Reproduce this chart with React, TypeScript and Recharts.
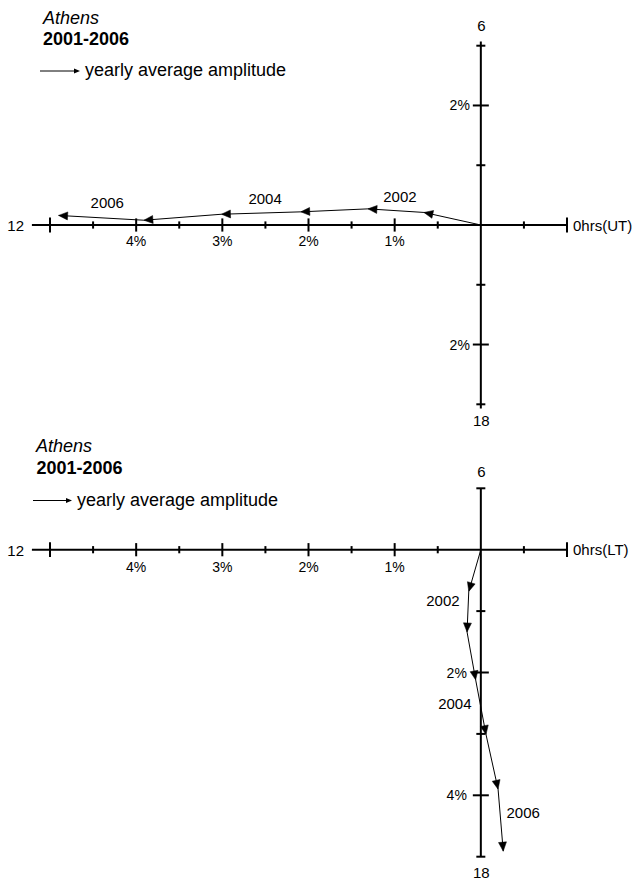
import React from 'react';
import { ComposedChart, XAxis, YAxis, Line, ReferenceLine, ReferenceDot } from 'recharts';

const FONT = '"Liberation Sans", Arial, Helvetica, sans-serif';

// ---- data ----
const years = [2001, 2002, 2003, 2004, 2005, 2006];
const labelledYears = [2002, 2004, 2006];
// cumulative yearly average amplitude vector tips (%), UT panel
const utAmpX = [0.66, 1.31, 2.09, 3.01, 3.91, 4.9];
const utAmpY = [0.21, 0.27, 0.22, 0.18, 0.08, 0.16];
// LT panel
const ltAmpX = [0.14, 0.16, 0.06, -0.06, -0.2, -0.26];
const ltAmpY = [0.68, 1.34, 2.12, 3.01, 3.9, 4.91];

// ---- axis ticks ----
const hMajorTicks = [1, 2, 3, 4];
const hMinorTicks = [-0.5, 0.5, 1.5, 2.5, 3.5, 4.5];
const hEndTicks = [-1, 5];
const utVMajorTicks = [-2, 2];
const utVMinorTicks = [-3, -1, 1, 3];
const ltVMajorTicks = [2, 4];
const ltVMinorTicks = [-1, 1, 3, 5];

const buildData = (xs: number[], ys: number[]) => [
  { x: 0, y: 0, year: 0 },
  ...years.map((yr, i) => ({ x: xs[i], y: ys[i], year: yr })),
];
const utData = buildData(utAmpX, utAmpY);
const ltData = buildData(ltAmpX, ltAmpY);

const AX = 2;

function makeArrowDot(labelOffsets: [number, number][]) {
  let last: { x: number; y: number } | null = null;
  return (props: any) => {
    const { cx, cy, index, points, payload } = props;
    if (cx == null || cy == null) return <g key={`d${index}`} />;
    if (index === 0) {
      last = { x: cx, y: cy };
      return <g key={`d${index}`} />;
    }
    const prev = points && points[index - 1] ? { x: points[index - 1].x, y: points[index - 1].y } : last;
    last = { x: cx, y: cy };
    if (!prev) return <g key={`d${index}`} />;
    const ang = Math.atan2(cy - prev.y, cx - prev.x);
    const L = 9;
    const W = 4;
    const bx = cx - L * Math.cos(ang);
    const by = cy - L * Math.sin(ang);
    const nx = -Math.sin(ang);
    const ny = Math.cos(ang);
    const tri = `${cx},${cy} ${bx + W * nx},${by + W * ny} ${bx - W * nx},${by - W * ny}`;
    const k = labelledYears.indexOf(payload?.year);
    let label = null;
    if (k >= 0) {
      const mx = (cx + prev.x) / 2 + labelOffsets[k][0];
      const my = (cy + prev.y) / 2 + labelOffsets[k][1];
      label = (
        <text x={mx} y={my} textAnchor="middle" dominantBaseline="central" fontSize={15} fontFamily={FONT} fill="#000">
          {payload.year}
        </text>
      );
    }
    return (
      <g key={`d${index}`}>
        <polygon points={tri} fill="#000" stroke="#000" strokeWidth={0.5} />
        {label}
      </g>
    );
  };
}

const hTick = (half: number, label?: string, labelDy = 16) => (p: any) => (
  <g>
    <line x1={p.cx} x2={p.cx} y1={p.cy - half} y2={p.cy + half} stroke="#000" strokeWidth={AX} />
    {label ? (
      <text x={p.cx} y={p.cy + labelDy} textAnchor="middle" dominantBaseline="central" fontSize={14} fontFamily={FONT} fill="#000">
        {label}
      </text>
    ) : null}
  </g>
);

const vTick = (left: number, right: number, label?: string, labelDx = 11) => (p: any) => (
  <g>
    <line x1={p.cx - left} x2={p.cx + right} y1={p.cy} y2={p.cy} stroke="#000" strokeWidth={AX} />
    {label ? (
      <text x={p.cx - labelDx} y={p.cy} textAnchor="end" dominantBaseline="central" fontSize={14} fontFamily={FONT} fill="#000">
        {label}
      </text>
    ) : null}
  </g>
);

const endText = (text: string, dx: number, dy: number, anchor: 'start' | 'middle' | 'end') => (p: any) => (
  <text x={p.cx + dx} y={p.cy + dy} textAnchor={anchor} dominantBaseline="central" fontSize={15} fontFamily={FONT} fill="#000">
    {text}
  </text>
);

type PanelProps = {
  data: any[];
  height: number;
  margin: any;
  yDomain: [number, number];
  yReversed: boolean;
  vAxisFrom: number;
  vAxisTo: number;
  vTop: number;
  vBottom: number;
  vMajor: number[];
  vMinor: number[];
  hLabelDy: number;
  vLabelDx: number;
  timeLabel: string;
  topLabelDy: number;
  labelOffsets: [number, number][];
};

function Panel(pp: PanelProps) {
  const dot = makeArrowDot(pp.labelOffsets);
  return (
    <ComposedChart width={635} height={pp.height} margin={pp.margin} data={pp.data}>
      <XAxis type="number" dataKey="x" domain={[-1, 5]} reversed hide allowDataOverflow />
      <YAxis type="number" domain={pp.yDomain} reversed={pp.yReversed} hide allowDataOverflow />
      <ReferenceLine
        segment={[{ x: 5.21, y: 0 }, { x: -1, y: 0 }]}
        stroke="#000"
        strokeWidth={AX}
        ifOverflow="visible"
      />
      <ReferenceLine
        segment={[{ x: 0, y: pp.vAxisFrom }, { x: 0, y: pp.vAxisTo }]}
        stroke="#000"
        strokeWidth={AX}
        ifOverflow="visible"
      />
      {hMinorTicks.map((t) => (
        <ReferenceDot key={`hm${t}`} x={t} y={0} r={0} ifOverflow="visible" shape={hTick(3.6)} />
      ))}
      {hMajorTicks.map((t) => (
        <ReferenceDot key={`hM${t}`} x={t} y={0} r={0} ifOverflow="visible" shape={hTick(6.6, `${t}%`, pp.hLabelDy)} />
      ))}
      {hEndTicks.map((t) => (
        <ReferenceDot key={`he${t}`} x={t} y={0} r={0} ifOverflow="visible" shape={hTick(7.4)} />
      ))}
      {pp.vMinor.map((t) => (
        <ReferenceDot key={`vm${t}`} x={0} y={t} r={0} ifOverflow="visible" shape={vTick(4.5, 4.5)} />
      ))}
      {pp.vMajor.map((t) => (
        <ReferenceDot
          key={`vM${t}`}
          x={0}
          y={t}
          r={0}
          ifOverflow="visible"
          shape={vTick(8, 8, `${Math.abs(t)}%`, pp.vLabelDx)}
        />
      ))}
      <ReferenceDot x={5} y={0} r={0} ifOverflow="visible" shape={endText('12', -26, 0.5, 'end')} />
      <ReferenceDot x={-1} y={0} r={0} ifOverflow="visible" shape={endText(pp.timeLabel, 6, 0, 'start')} />
      <ReferenceDot x={0} y={pp.vTop} r={0} ifOverflow="visible" shape={endText('6', 0.5, pp.topLabelDy, 'middle')} />
      <ReferenceDot x={0} y={pp.vBottom} r={0} ifOverflow="visible" shape={endText('18', 0.5, 16, 'middle')} />
      <Line
        type="linear"
        dataKey="y"
        stroke="#000"
        strokeWidth={1}
        dot={dot}
        activeDot={false}
        isAnimationActive={false}
      />
    </ComposedChart>
  );
}

function Legend({ x0, x1, y, tx, ty }: { x0: number; x1: number; y: number; tx: number; ty: number }) {
  return (
    <g>
      <line x1={x0} x2={x1 - 4} y1={y} y2={y} stroke="#000" strokeWidth={1} />
      <polygon points={`${x1},${y} ${x1 - 6},${y - 2.5} ${x1 - 6},${y + 2.5}`} fill="#000" />
      <text x={tx} y={ty} fontSize={18} fontFamily={FONT} fill="#000">
        yearly average amplitude
      </text>
    </g>
  );
}

export default function App() {
  return (
    <div style={{ position: 'absolute', left: 0, top: 0, width: 635, height: 881, background: '#fff' }}>
      <div style={{ position: 'absolute', left: 0, top: 0 }}>
        <Panel
          data={utData}
          height={440}
          margin={{ top: 45.7, right: 68, bottom: 35.7, left: 50 }}
          yDomain={[-3, 3]}
          yReversed={false}
          vAxisFrom={-3.07}
          vAxisTo={3.07}
          vTop={3}
          vBottom={-3}
          vMajor={utVMajorTicks}
          vMinor={utVMinorTicks}
          hLabelDy={16}
          vLabelDx={11}
          timeLabel="0hrs(UT)"
          topLabelDy={-20}
          labelOffsets={[[4, -14.5], [4, -14.5], [6, -15]]}
        />
      </div>
      <div style={{ position: 'absolute', left: 0, top: 440 }}>
        <Panel
          data={ltData}
          height={441}
          margin={{ top: 48.3, right: 68, bottom: 24.3, left: 50 }}
          yDomain={[-1, 5]}
          yReversed={true}
          vAxisFrom={-1}
          vAxisTo={5}
          vTop={-1}
          vBottom={5}
          vMajor={ltVMajorTicks}
          vMinor={ltVMinorTicks}
          hLabelDy={17.5}
          vLabelDx={14}
          timeLabel="0hrs(LT)"
          topLabelDy={-17}
          labelOffsets={[[-25, -11], [-26, -4], [22.5, -8]]}
        />
      </div>
      <svg
        width={635}
        height={881}
        style={{ position: 'absolute', left: 0, top: 0, pointerEvents: 'none' }}
      >
        <text x={43} y={23.5} fontSize={18} fontStyle="italic" fontFamily={FONT} fill="#000">
          Athens
        </text>
        <text x={43} y={45} fontSize={18} fontWeight="bold" fontFamily={FONT} fill="#000">
          2001-2006
        </text>
        <Legend x0={40} x1={80} y={71} tx={85} ty={75.5} />
        <text x={36} y={451.5} fontSize={18} fontStyle="italic" fontFamily={FONT} fill="#000">
          Athens
        </text>
        <text x={36.5} y={473.5} fontSize={18} fontWeight="bold" fontFamily={FONT} fill="#000">
          2001-2006
        </text>
        <Legend x0={33} x1={72} y={500.5} tx={77} ty={506} />
      </svg>
    </div>
  );
}
